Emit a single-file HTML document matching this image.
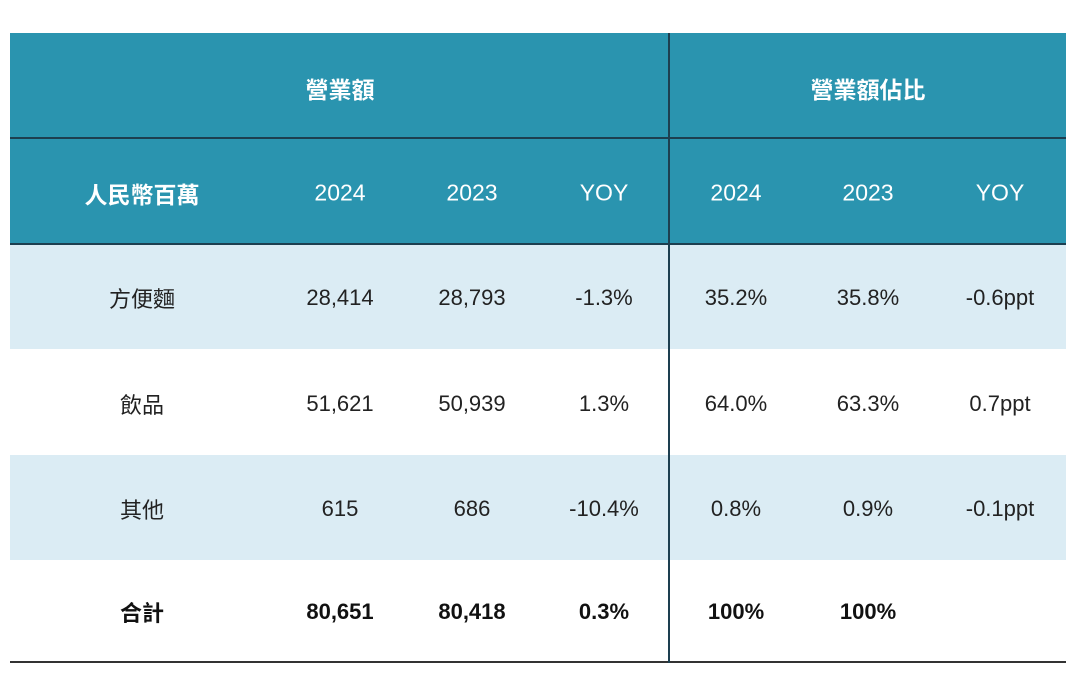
<!DOCTYPE html>
<html><head><meta charset="utf-8"><style>
body{margin:0;width:1080px;height:674px;background:#fff;position:relative;overflow:hidden;font-family:"Liberation Sans","Noto Sans CJK TC",sans-serif}
.r{position:absolute;left:10px;width:1056px}
.h{background:#2a94af}
.l{background:#dbecf4}
.t{position:absolute;transform:translate(-50%,-50%);white-space:nowrap;font-size:22px;color:#222}
.w{color:#fff;font-size:23px}
.wb{font-weight:bold}
.b{font-weight:bold;color:#111}
</style></head><body>
<div class="r h" style="top:33px;height:211px"></div>
<div class="r" style="top:137px;height:2px;background:#1d3f50"></div>
<div class="r" style="top:243px;height:2px;background:#1d3f50"></div>
<div class="r l" style="top:245px;height:104px"></div>
<div class="r l" style="top:455px;height:105px"></div>
<div class="r" style="top:661px;height:2px;background:#333"></div>
<div style="position:absolute;left:668px;top:33px;width:2px;height:630px;background:#1d3f50"></div>
<div class="t w wb" style="left:340px;top:88px">營業額</div>
<div class="t w wb" style="left:868px;top:88px">營業額佔比</div>
<div class="t w wb" style="left:142px;top:193px">人民幣百萬</div>
<div class="t w" style="left:340px;top:193px">2024</div>
<div class="t w" style="left:472px;top:193px">2023</div>
<div class="t w" style="left:604px;top:193px">YOY</div>
<div class="t w" style="left:736px;top:193px">2024</div>
<div class="t w" style="left:868px;top:193px">2023</div>
<div class="t w" style="left:1000px;top:193px">YOY</div>

<div class="t" style="left:142px;top:298px">方便麵</div>
<div class="t" style="left:340px;top:298px">28,414</div>
<div class="t" style="left:472px;top:298px">28,793</div>
<div class="t" style="left:604px;top:298px">-1.3%</div>
<div class="t" style="left:736px;top:298px">35.2%</div>
<div class="t" style="left:868px;top:298px">35.8%</div>
<div class="t" style="left:1000px;top:298px">-0.6ppt</div>

<div class="t" style="left:142px;top:404px">飲品</div>
<div class="t" style="left:340px;top:404px">51,621</div>
<div class="t" style="left:472px;top:404px">50,939</div>
<div class="t" style="left:604px;top:404px">1.3%</div>
<div class="t" style="left:736px;top:404px">64.0%</div>
<div class="t" style="left:868px;top:404px">63.3%</div>
<div class="t" style="left:1000px;top:404px">0.7ppt</div>

<div class="t" style="left:142px;top:509px">其他</div>
<div class="t" style="left:340px;top:509px">615</div>
<div class="t" style="left:472px;top:509px">686</div>
<div class="t" style="left:604px;top:509px">-10.4%</div>
<div class="t" style="left:736px;top:509px">0.8%</div>
<div class="t" style="left:868px;top:509px">0.9%</div>
<div class="t" style="left:1000px;top:509px">-0.1ppt</div>

<div class="t b" style="left:142px;top:612px">合計</div>
<div class="t b" style="left:340px;top:612px">80,651</div>
<div class="t b" style="left:472px;top:612px">80,418</div>
<div class="t b" style="left:604px;top:612px">0.3%</div>
<div class="t b" style="left:736px;top:612px">100%</div>
<div class="t b" style="left:868px;top:612px">100%</div>
</body></html>
